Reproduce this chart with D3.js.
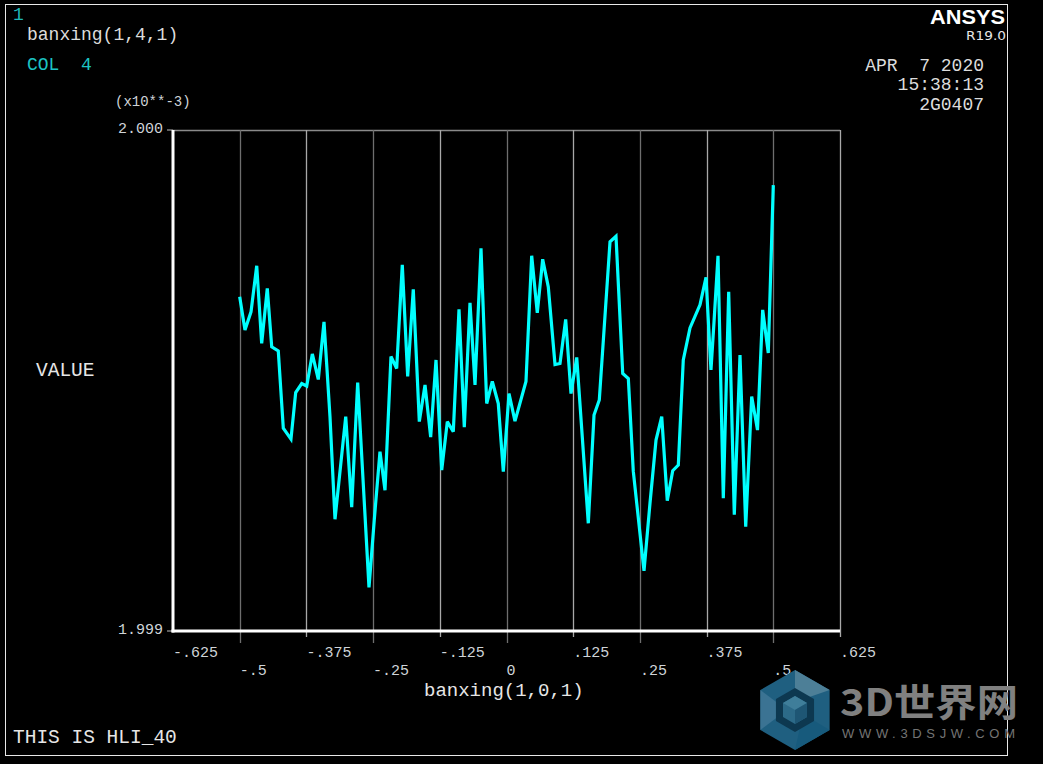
<!DOCTYPE html>
<html>
<head>
<meta charset="utf-8">
<script src="https://cdn.jsdelivr.net/npm/d3@7"></script>
<style>
  html, body { margin: 0; padding: 0; background: #000; }
  svg { display: block; }
  text { font-family: "Liberation Mono", "DejaVu Sans Mono", monospace; }
</style>
</head>
<body>
<div id="chart"></div>
<script>
// banxing(1,0,1) positions
const xVals = [
  -0.500, -0.4901, -0.4788, -0.4681, -0.4588, -0.4483, -0.4400, -0.4277, -0.4183, -0.4039,
  -0.3951, -0.3838, -0.3744, -0.3639, -0.3527, -0.3420, -0.3308, -0.3214, -0.3013, -0.2901,
  -0.2789, -0.2577, -0.2478, -0.2371, -0.2277, -0.2165, -0.2058, -0.1953, -0.1852, -0.1747,
  -0.1634, -0.1527, -0.1421, -0.1321, -0.1214, -0.1109, -0.0997, -0.0890, -0.0791, -0.0684,
  -0.0590, -0.0478, -0.0371, -0.0266, -0.0154, -0.0060, 0.0047, 0.0159, 0.0365, 0.0472,
  0.0577, 0.0678, 0.0783, 0.0909, 0.1003, 0.1109, 0.1209, 0.1316, 0.1533, 0.1640,
  0.1739, 0.1940, 0.2052, 0.2178, 0.2283, 0.2376, 0.2577, 0.2689, 0.2802, 0.2909,
  0.3013, 0.3115, 0.3220, 0.3313, 0.3439, 0.3626, 0.3739, 0.3832, 0.3889, 0.3964,
  0.4063, 0.4164, 0.4269, 0.4376, 0.4483, 0.4595, 0.4704, 0.4801, 0.4906, 0.500
];
// banxing(1,4,1) values, x10**-3
const yVals = [
  1.999667, 1.999601, 1.999637, 1.999729, 1.999574, 1.999684, 1.999567, 1.999559, 1.999405, 1.999383,
  1.999476, 1.999494, 1.999489, 1.999553, 1.999502, 1.999617, 1.999428, 1.999223, 1.999428, 1.999247,
  1.999496, 1.999087, 1.999222, 1.999358, 1.999281, 1.999548, 1.999524, 1.999731, 1.999508, 1.999682,
  1.999418, 1.999491, 1.999387, 1.999541, 1.999321, 1.999418, 1.999398, 1.999642, 1.999407, 1.999655,
  1.999491, 1.999764, 1.999454, 1.999498, 1.999454, 1.999318, 1.999474, 1.999419, 1.999498, 1.999749,
  1.999635, 1.999742, 1.999687, 1.999532, 1.999534, 1.999622, 1.999474, 1.999546, 1.999215, 1.999431,
  1.999461, 1.999777, 1.999788, 1.999514, 1.999504, 1.999319, 1.999120, 1.999255, 1.999381, 1.999428,
  1.999260, 1.999320, 1.999331, 1.999541, 1.999605, 1.999651, 1.999706, 1.999521, 1.999617, 1.999749,
  1.999265, 1.999677, 1.999232, 1.999551, 1.999208, 1.999468, 1.999401, 1.999641, 1.999555, 1.999890
];
const xTicks = [-0.625, -0.5, -0.375, -0.25, -0.125, 0, 0.125, 0.25, 0.375, 0.5, 0.625];
const yTicks = [1.999, 2.000];
const dateLines = ["APR  7 2020", "15:38:13", "2G0407"];

const W = 1043, H = 764;
const svg = d3.select("#chart").append("svg")
  .attr("width", W).attr("height", H)
  .style("background", "#000");

// window frame
svg.append("rect")
  .attr("x", 5.5).attr("y", 4.5).attr("width", 1002).attr("height", 751)
  .attr("fill", "none").attr("stroke", "#e8e8e8").attr("stroke-width", 1);

const x = d3.scaleLinear().domain([-0.625, 0.625]).range([173, 840]);
const y = d3.scaleLinear().domain([1.999, 2.000]).range([631, 130]);

const fmt = function (d) {
  if (d === 0) return "0";
  return String(d).replace("0.", ".");
};

// grid
svg.append("line")
  .attr("x1", x(-0.625)).attr("x2", x(0.625))
  .attr("y1", y(2.000) + 0.5).attr("y2", y(2.000) + 0.5)
  .attr("stroke", "#8a8a8a").attr("stroke-width", 1.5);

xTicks.forEach(function (t, i) {
  if (i === 0) return;
  const major = i % 2 === 1;
  svg.append("line")
    .attr("x1", Math.round(x(t)) + 0.5).attr("x2", Math.round(x(t)) + 0.5)
    .attr("y1", y(2.000)).attr("y2", y(1.999) + (major ? 12 : 6))
    .attr("stroke", major ? "#6e6e6e" : "#a8a8a8")
    .attr("stroke-width", 1.3);
});

// y tick stubs + labels
yTicks.forEach(function (t) {
  svg.append("line")
    .attr("x1", x(-0.625) - 6).attr("x2", x(-0.625))
    .attr("y1", y(t)).attr("y2", y(t))
    .attr("stroke", "#bdbdbd").attr("stroke-width", 1);
  svg.append("text")
    .attr("x", 163).attr("y", y(t) + 3)
    .attr("text-anchor", "end")
    .attr("font-size", "15px").attr("fill", "#cfd4d8")
    .text(d3.format(".3f")(t));
});

// axes
svg.append("line")
  .attr("x1", x(-0.625)).attr("x2", x(-0.625))
  .attr("y1", y(2.000)).attr("y2", y(1.999) + 1.5)
  .attr("stroke", "#fff").attr("stroke-width", 3);
svg.append("line")
  .attr("x1", x(-0.625) - 1.5).attr("x2", x(0.625))
  .attr("y1", y(1.999)).attr("y2", y(1.999))
  .attr("stroke", "#fff").attr("stroke-width", 3);

// x tick labels, two staggered rows
svg.selectAll("text.xlab")
  .data(xTicks)
  .enter().append("text")
  .attr("class", "xlab")
  .attr("x", function (d) { return x(d); })
  .attr("y", function (d, i) { return i % 2 === 0 ? 657 : 675; })
  .attr("font-size", "15px").attr("fill", "#cfd4d8")
  .text(fmt);

// curve
const pts = xVals.map(function (v, i) { return [v, yVals[i]]; });
svg.append("path")
  .datum(pts)
  .attr("fill", "none")
  .attr("stroke", "#00ffff")
  .attr("stroke-width", 3.2)
  .attr("stroke-linejoin", "miter")
  .attr("stroke-miterlimit", 3)
  .attr("d", d3.line().x(function (d) { return x(d[0]); }).y(function (d) { return y(d[1]); }));

// labels
svg.append("text").attr("x", 13).attr("y", 20)
  .attr("font-size", "18px").attr("fill", "#1fb8b8").text("1");
svg.append("text").attr("x", 27).attr("y", 40)
  .attr("font-size", "18px").attr("fill", "#dcdcdc").text("banxing(1,4,1)");
svg.append("text").attr("x", 27).attr("y", 70)
  .attr("font-size", "18px").attr("fill", "#1cc4c4")
  .style("white-space", "pre").text("COL  4");
svg.append("text").attr("x", 115).attr("y", 106)
  .attr("font-size", "14px").attr("fill", "#cfd4d8").text("(x10**-3)");
svg.append("text").attr("x", 36).attr("y", 376)
  .attr("font-size", "19.5px").attr("fill", "#e6e6e6").text("VALUE");
svg.append("text").attr("x", 424).attr("y", 696)
  .attr("font-size", "19px").attr("fill", "#e6e6e6").text("banxing(1,0,1)");
svg.append("text").attr("x", 13).attr("y", 743)
  .attr("font-size", "19.5px").attr("fill", "#e6e6e6").text("THIS IS HLI_40");

svg.append("text").attr("x", 1005).attr("y", 24)
  .attr("text-anchor", "end")
  .style("font-family", "'Liberation Sans', Arial, sans-serif")
  .attr("font-weight", "bold").attr("font-size", "21px").attr("fill", "#fff")
  .attr("textLength", 75).attr("lengthAdjust", "spacingAndGlyphs")
  .text("ANSYS");
svg.append("text").attr("x", 1006).attr("y", 40)
  .attr("text-anchor", "end")
  .style("font-family", "'DejaVu Sans', 'Liberation Sans', sans-serif")
  .attr("font-size", "13px").attr("fill", "#e6e6e6")
  .attr("textLength", 40).attr("lengthAdjust", "spacingAndGlyphs")
  .text("R19.0");

svg.selectAll("text.date")
  .data(dateLines)
  .enter().append("text")
  .attr("class", "date")
  .attr("x", 984)
  .attr("y", function (d, i) { return 70.5 + i * 19.8; })
  .attr("text-anchor", "end")
  .attr("font-size", "18px").attr("fill", "#dcdcdc")
  .style("white-space", "pre")
  .text(function (d) { return d; });

// watermark
const wm = svg.append("g").attr("transform", "translate(795,710)");
const hex = d3.range(6).map(function (k) {
  const a = Math.PI / 3 * k - Math.PI / 2;
  return [40 * Math.cos(a), 40 * Math.sin(a)];
});
wm.append("path").attr("d", "M" + hex.join("L") + "Z").attr("fill", "#1f5f80");
wm.append("path").attr("d", "M" + hex[0] + "L" + hex[1] + "L0,-8Z").attr("fill", "#4d7f97");
wm.append("path").attr("d", "M" + hex[4] + "L" + hex[5] + "L-8,0Z").attr("fill", "#3b7393");
wm.append("path").attr("d", "M" + hex[2] + "L" + hex[3] + "L8,4Z").attr("fill", "#175a7c");
const inner = d3.range(6).map(function (k) {
  const a = Math.PI / 3 * k - Math.PI / 2;
  return [22 * Math.cos(a), 22 * Math.sin(a)];
});
wm.append("path").attr("d", "M" + inner.join("L") + "Z").attr("fill", "#0d3850");
wm.append("path").attr("d", "M0,-14L12,-7L12,7L0,14L-12,7L-12,-7Z").attr("fill", "#2c6a88");
wm.append("path").attr("d", "M0,-14L12,-7L0,0L-12,-7Z").attr("fill", "#3f7e9a");
wm.append("path").attr("d", "M0,0L12,-7L12,7L0,14Z").attr("fill", "#1e5674");

svg.append("text").attr("x", 840).attr("y", 716)
  .style("font-family", "'Noto Sans CJK SC', 'Liberation Sans', sans-serif")
  .attr("font-weight", "bold").attr("font-size", "38px").attr("fill", "#808080")
  .attr("textLength", 178).attr("lengthAdjust", "spacingAndGlyphs")
  .text("3D世界网");
svg.append("text").attr("x", 842).attr("y", 738)
  .style("font-family", "'Liberation Sans', Arial, sans-serif")
  .attr("font-size", "13px").attr("fill", "#747474")
  .attr("textLength", 173).attr("lengthAdjust", "spacing")
  .text("WWW.3DSJW.COM");
</script>
</body>
</html>
